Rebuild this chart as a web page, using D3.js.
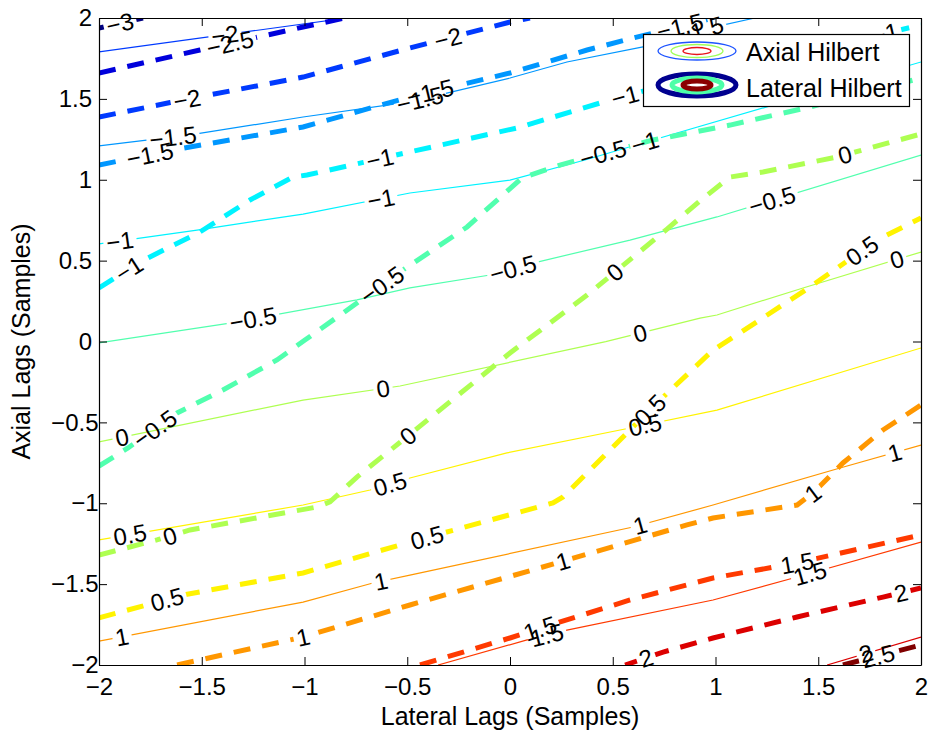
<!DOCTYPE html>
<html>
<head>
<meta charset="utf-8">
<script src="https://cdn.jsdelivr.net/npm/d3@7"></script>
<style>
  body { margin: 0; background: #fff; }
  svg { display: block; font-family: "Liberation Sans", Arial, Helvetica, sans-serif; }
</style>
</head>
<body>
<svg id="chart" width="933" height="735"></svg>
<script>
// ---- axis ticks ----
const xTicks = [-2, -1.5, -1, -0.5, 0, 0.5, 1, 1.5, 2];
const xTickLabels = ["−2", "−1.5", "−1", "−0.5", "0", "0.5", "1", "1.5", "2"];
const yTicks = [-2, -1.5, -1, -0.5, 0, 0.5, 1, 1.5, 2];
const yTickLabels = ["−2", "−1.5", "−1", "−0.5", "0", "0.5", "1", "1.5", "2"];

// ---- Axial Hilbert contours (level, polyline in lag units) ----
const axialLevels = [-2, -1.5, -1, -0.5, 0, 0.5, 1, 1.5, 2];
const axialLines = [
  [[-2, 1.790], [-0.793, 2.0]],
  [[-2, 1.209], [-1.557, 1.277], [-1.007, 1.388], [-0.487, 1.481], [0, 1.629], [0.277, 1.728], [0.647, 1.821], [0.925, 1.925], [1.192, 2.0]],
  [[-2, 0.603], [-1.523, 0.689], [-1.007, 0.788], [-0.487, 0.918], [0, 0.998], [0.365, 1.122], [0.696, 1.246], [2, 1.728]],
  [[-2, -0.009], [-1.363, 0.114], [-0.745, 0.257], [-0.487, 0.331], [-0.097, 0.411], [0.112, 0.485], [0.584, 0.627], [1.007, 0.770], [2, 1.153]],
  [[-2, -0.621], [-1.007, -0.362], [-0.535, -0.275], [0.466, -0.001], [0.925, 0.145], [1.007, 0.164], [1.426, 0.331], [2, 0.553]],
  [[-2, -1.227], [-1.007, -1.011], [-0.681, -0.918], [-0.487, -0.844], [-0.015, -0.689], [0.584, -0.535], [1.007, -0.424], [2, -0.040]],
  [[-2, -1.852], [-1.007, -1.611], [-0.667, -1.493], [-0.487, -1.444], [0.599, -1.147], [0.988, -1.011], [1.606, -0.782], [2, -0.640]],
  [[-0.350, -2.0], [0.083, -1.845], [0.277, -1.784], [0.988, -1.598], [1.397, -1.456], [2, -1.240]],
  [[1.543, -2.0], [2, -1.827]]
];
// lateral positions of the inline level labels on each axial contour
const axialLabelAt = [
  [-1.387],
  [-1.640, -0.438, 0.925],
  [-1.898, -0.628, 0.657],
  [-1.251, 0.015, 1.275],
  [-1.888, -0.618, 0.633, 1.883],
  [-1.849, -0.584, 0.657],
  [-1.888, -0.628, 0.633, 1.873],
  [0.180, 1.460],
  [1.732]
];

// ---- Lateral Hilbert contours ----
const lateralLevels = [-3, -2.5, -2, -1.5, -1, -0.5, 0, 0.5, 1, 1.5, 2, 2.5];
const lateralLines = [
  [[-2, 1.938], [-1.786, 2.0]],
  [[-2, 1.660], [-1.509, 1.802], [-1.007, 1.944], [-0.803, 2.0]],
  [[-2, 1.388], [-1.640, 1.481], [-1.007, 1.635], [-0.487, 1.815], [0, 1.975], [0.097, 2.0]],
  [[-2, 1.091], [-1.640, 1.184], [-1.007, 1.326], [-0.487, 1.512], [0, 1.660], [0.375, 1.802], [0.599, 1.876], [0.993, 2.0]],
  [[-2, 0.331], [-1.801, 0.492], [-1.509, 0.677], [-1.265, 0.875], [-1.056, 1.017], [-0.988, 1.029], [-0.487, 1.172], [0.034, 1.320], [0.487, 1.493], [0.633, 1.543], [2, 1.957]],
  [[-2, -0.770], [-1.859, -0.658], [-1.620, -0.442], [-1.397, -0.300], [-1.134, -0.114], [-0.998, 0.009], [-0.813, 0.176], [-0.521, 0.442], [-0.209, 0.708], [0.058, 1.011], [0.243, 1.091], [0.696, 1.246], [1.071, 1.338], [1.460, 1.450], [2, 1.629]],
  [[-2, -1.320], [-1.718, -1.227], [-1.557, -1.165], [-0.939, -1.023], [-0.876, -0.992], [-0.745, -0.838], [-0.521, -0.609], [0, -0.071], [0.375, 0.287], [0.764, 0.695], [0.925, 0.870], [1.071, 1.017], [1.231, 1.048], [1.591, 1.141], [2, 1.283]],
  [[-2, -1.709], [-1.591, -1.567], [-1.007, -1.431], [-0.487, -1.240], [-0.326, -1.184], [0.209, -0.998], [0.258, -0.961], [0.375, -0.813], [0.584, -0.547], [0.730, -0.362], [0.988, -0.053], [1.119, 0.053], [1.460, 0.337], [1.786, 0.627], [2, 0.764]],
  [[-1.620, -2.0], [-1.007, -1.827], [-0.487, -1.629], [0.229, -1.369], [0.861, -1.134], [0.988, -1.091], [1.397, -1.011], [1.474, -0.937], [1.620, -0.751], [1.815, -0.547], [2, -0.393]],
  [[-0.438, -2.0], [0, -1.833], [0.229, -1.740], [0.584, -1.598], [0.988, -1.462], [1.397, -1.369], [2, -1.196]],
  [[0.560, -2.0], [0.745, -1.920], [0.988, -1.833], [1.397, -1.703], [1.815, -1.580], [2, -1.524]],
  [[1.620, -2.0], [2, -1.876]]
];
const lateralLabelAt = [
  [-1.898],
  [-1.363],
  [-1.572, -0.302],
  [-1.752, -0.389, 0.827],
  [-1.854, -0.633, 0.560, 1.825],
  [-1.728, -0.623, 0.453],
  [-1.655, -0.496, 0.511, 1.630],
  [-1.669, -0.404, 0.681, 1.713],
  [-1.007, 0.258, 1.474],
  [0.146, 1.397],
  [0.662, 1.903],
  [1.791]
];

const legendNames = ["Axial Hilbert", "Lateral Hilbert"];
const xTitle = "Lateral Lags (Samples)";
const yTitle = "Axial Lags (Samples)";

(function draw() {
  const svg = d3.select("#chart");
  const pLeft = 99, pRight = 921, pTop = 18, pBottom = 665;
  const x = d3.scaleLinear().domain([-2, 2]).range([pLeft, pRight]);
  const y = d3.scaleLinear().domain([-2, 2]).range([pBottom, pTop]);
  const FONT = 24;

  // jet colour map over the shared contour level range
  const cmin = -3, cmax = 2.5;
  function jet(v) {
    const t = (v - cmin) / (cmax - cmin);
    const c = k => Math.max(0, Math.min(1, 1.5 - Math.abs(4 * t - k)));
    return d3.rgb(255 * c(3), 255 * c(2), 255 * c(1)).formatHex();
  }
  const fmt = d3.format("~g");

  const defs = svg.append("defs");
  defs.append("clipPath").attr("id", "plotClip")
    .append("rect").attr("x", pLeft).attr("y", pTop)
    .attr("width", pRight - pLeft).attr("height", pBottom - pTop);

  const gLines = svg.append("g").attr("clip-path", "url(#plotClip)");
  const gLabels = svg.append("g");

  const line = d3.line().x(d => x(d[0])).y(d => y(d[1]));

  // position and direction of a polyline at a given lateral lag
  function pointAt(pts, xv) {
    let i = 0;
    while (i < pts.length - 2 && xv > pts[i + 1][0]) i++;
    const a = pts[i], b = pts[i + 1];
    const t = (xv - a[0]) / (b[0] - a[0]);
    const yv = a[1] + t * (b[1] - a[1]);
    const ang = Math.atan2(y(b[1]) - y(a[1]), x(b[0]) - x(a[0])) * 180 / Math.PI;
    return { px: x(xv), py: y(yv), ang };
  }

  const series = [
    { key: "ax", levels: axialLevels, lines: axialLines, labels: axialLabelAt, width: 1.2, dash: null },
    { key: "lat", levels: lateralLevels, lines: lateralLines, labels: lateralLabelAt, width: 5, dash: "17,12" }
  ];

  series.forEach(s => {
    s.lines.forEach((pts, i) => {
      const level = s.levels[i];
      const boxes = [];
      s.labels[i].forEach(xv => {
        const p = pointAt(pts, xv);
        const t = gLabels.append("text")
          .attr("transform", `translate(${p.px},${p.py}) rotate(${p.ang})`)
          .attr("text-anchor", "middle")
          .attr("dy", "0.36em")
          .attr("font-size", FONT)
          .attr("fill", "#000")
          .text(fmt(level));
        boxes.push({ p, w: t.node().getComputedTextLength() });
      });
      // mask that opens a gap in the contour under each of its labels
      const mid = `m-${s.key}-${i}`;
      const m = defs.append("mask").attr("id", mid)
        .attr("maskUnits", "userSpaceOnUse")
        .attr("x", 0).attr("y", 0).attr("width", 933).attr("height", 735);
      m.append("rect").attr("x", 0).attr("y", 0).attr("width", 933).attr("height", 735).attr("fill", "#fff");
      boxes.forEach(b => {
        m.append("rect")
          .attr("x", -b.w / 2 - 3).attr("y", -9)
          .attr("width", b.w + 6).attr("height", 18)
          .attr("transform", `translate(${b.p.px},${b.p.py}) rotate(${b.p.ang})`)
          .attr("fill", "#000");
      });
      gLines.append("path")
        .attr("d", line(pts))
        .attr("fill", "none")
        .attr("stroke", jet(level))
        .attr("stroke-width", s.width)
        .attr("stroke-dasharray", s.dash)
        .attr("mask", `url(#${mid})`);
    });
  });

  // ---- axes (ticks inside, box on) ----
  function styleAxis(g) {
    g.attr("font-family", null).attr("font-size", null);
    g.select(".domain").attr("stroke", "#000").attr("stroke-width", 1.2);
    g.selectAll(".tick line").attr("stroke", "#000").attr("stroke-width", 1);
    g.selectAll(".tick text").attr("fill", "#000").attr("font-size", FONT);
  }
  svg.append("g").attr("transform", `translate(0,${pBottom})`)
    .call(d3.axisBottom(x).tickValues(xTicks).tickFormat((d, i) => xTickLabels[i])
      .tickSizeInner(-8).tickSizeOuter(0).tickPadding(13))
    .call(styleAxis);
  svg.append("g").attr("transform", `translate(0,${pTop})`)
    .call(d3.axisTop(x).tickValues(xTicks).tickFormat("").tickSizeInner(-8).tickSizeOuter(0))
    .call(styleAxis);
  const gy = svg.append("g").attr("transform", `translate(${pLeft},0)`)
    .call(d3.axisLeft(y).tickValues(yTicks).tickFormat((d, i) => yTickLabels[i])
      .tickSizeInner(-8).tickSizeOuter(0).tickPadding(7))
    .call(styleAxis);
  gy.selectAll(".tick text").attr("x", d => d < 0 ? -0.5 : -7);
  svg.append("g").attr("transform", `translate(${pRight},0)`)
    .call(d3.axisRight(y).tickValues(yTicks).tickFormat("").tickSizeInner(-8).tickSizeOuter(0))
    .call(styleAxis);

  // axis titles
  svg.append("text").attr("x", (pLeft + pRight) / 2).attr("y", 725)
    .attr("text-anchor", "middle").attr("font-size", 25).text(xTitle);
  svg.append("text").attr("transform", `translate(30,${(pTop + pBottom) / 2}) rotate(-90)`)
    .attr("text-anchor", "middle").attr("font-size", 25).text(yTitle);

  // ---- legend ----
  const lg = svg.append("g");
  lg.append("rect").attr("x", 643.5).attr("y", 34.5).attr("width", 266).attr("height", 72)
    .attr("fill", "#fff").attr("stroke", "#000").attr("stroke-width", 1.2);
  const iconThin = [
    { rx: 39, ry: 9, c: "#1f55ff", w: 1.3 },
    { rx: 26, ry: 6.5, c: "#a0ff5a", w: 1.3 },
    { rx: 14, ry: 3.5, c: "#e8141a", w: 1.3 }
  ];
  const iconThick = [
    { rx: 39, ry: 11, c: "#00008f", w: 5 },
    { rx: 25, ry: 7, c: "#4dffa8", w: 5 },
    { rx: 14, ry: 4, c: "#8b0000", w: 5 }
  ];
  iconThin.forEach(e => lg.append("ellipse").attr("cx", 697).attr("cy", 51)
    .attr("rx", e.rx).attr("ry", e.ry).attr("fill", "none").attr("stroke", e.c).attr("stroke-width", e.w));
  iconThick.forEach(e => lg.append("ellipse").attr("cx", 697).attr("cy", 85)
    .attr("rx", e.rx).attr("ry", e.ry).attr("fill", "none").attr("stroke", e.c).attr("stroke-width", e.w));
  lg.selectAll("text.name").data(legendNames).join("text").attr("class", "name")
    .attr("x", 746).attr("y", (d, i) => 61 + i * 36)
    .attr("font-size", 25).attr("fill", "#000").text(d => d);
})();
</script>
</body>
</html>
